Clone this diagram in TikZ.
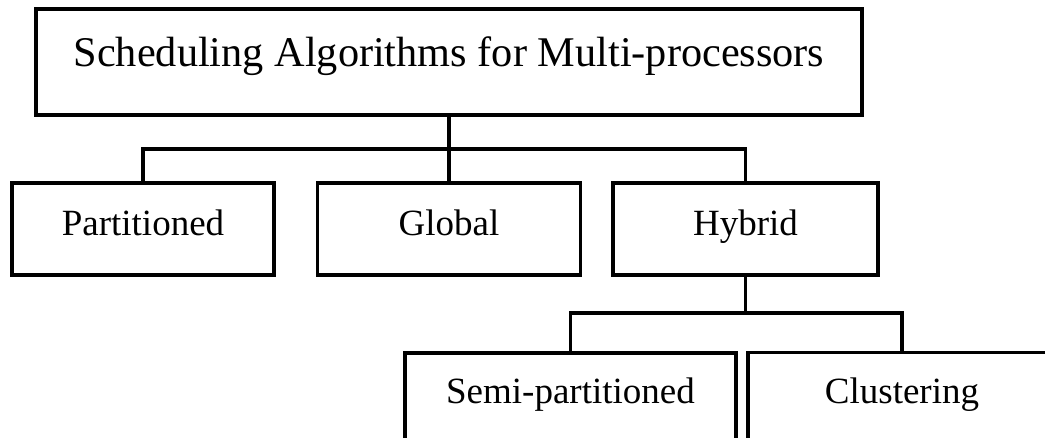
\documentclass[tikz,border=0pt]{standalone}
\usepackage{fontspec}
\setmainfont{Liberation Serif}
\begin{document}
\begin{tikzpicture}[x=1pt,y=-1pt,
  line width=3.2pt,
  box/.style={draw=black, rectangle, inner sep=0pt, minimum height=92pt,
    font=\fontsize{37}{44}\selectfont, text height=24pt, text depth=10pt},
  topbox/.style={box, minimum height=106pt,
    font=\fontsize{42.3}{50}\selectfont, text height=29pt, text depth=19pt},
  lowbox/.style={box, text height=24pt, text depth=14pt},
  conn/.style={draw=black, line width=3.2pt}]
\useasboundingbox (0,0) rectangle (1045,438);
\clip (0,0) rectangle (1045,438);
\node[topbox, minimum width=826pt] (top) at (449,62) {Scheduling Algorithms for Multi-processors};
\node[box, minimum width=262pt] (part) at (143,229) {Partitioned};
\node[box, minimum width=263pt] (glob) at (449,229) {Global};
\node[box, minimum width=265pt] (hyb) at (745.5,229) {Hybrid};
\node[lowbox, minimum width=331pt] (semi) at (570.5,399) {Semi-partitioned};
\node[lowbox, minimum width=308pt] (clu) at (902,398.5) {Clustering};
\coordinate (bus1) at (449,149);
\coordinate (bus2) at (745.5,313);
\draw[conn] (top.south) -- (glob.north);
\draw[conn] (part.north) |- (bus1) -| (hyb.north);
\draw[conn] (hyb.south) -- (bus2);
\draw[conn] (semi.north) |- (bus2) -| (clu.north);
\end{tikzpicture}
\end{document}
